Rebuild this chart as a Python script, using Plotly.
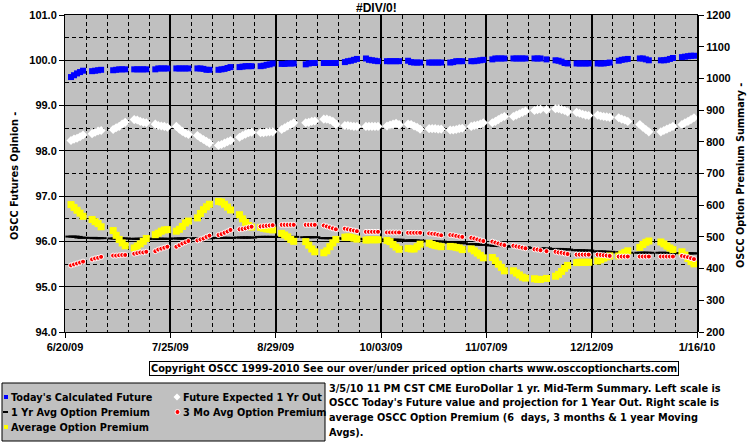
import pandas as pd
import plotly.graph_objects as go

# ---------------- data ----------------
HOLIDAYS = ["2009-07-03", "2009-09-07", "2009-11-26", "2009-12-25", "2010-01-01"]
_d = pd.bdate_range("2009-06-22", "2010-01-15")
DATES = _d[~_d.isin(pd.to_datetime(HOLIDAYS))]

TICK_VALS = ["2009-06-20", "2009-07-25", "2009-08-29", "2009-10-03",
             "2009-11-07", "2009-12-12", "2010-01-16"]
TICK_TEXT = ["6/20/09", "7/25/09", "8/29/09", "10/03/09", "11/07/09", "12/12/09", "1/16/10"]

TODAYS_FUTURE = [
    99.63, 99.67, 99.71, 99.74, 99.77,
    99.76, 99.77, 99.78, 99.79,
    99.78, 99.79, 99.80, 99.80, 99.80,
    99.80, 99.80, 99.80, 99.80, 99.80,
    99.80, 99.82, 99.82, 99.82, 99.82,
    99.82, 99.82, 99.82, 99.82, 99.82,
    99.82, 99.82, 99.81, 99.79, 99.79,
    99.79, 99.80, 99.81, 99.83, 99.85,
    99.85, 99.86, 99.87, 99.87, 99.87,
    99.87, 99.88, 99.90, 99.91, 99.93,
    99.92, 99.92, 99.93, 99.93, 99.93,
    99.91, 99.93, 99.94, 99.94,
    99.94, 99.94, 99.94, 99.94, 99.94,
    99.96, 99.98, 99.99, 100.01, 100.03,
    100.04, 100.01, 100.00, 99.99, 99.98,
    99.98, 99.98, 99.98, 99.98, 99.98,
    99.99, 99.96, 99.95, 99.95, 99.95,
    99.95, 99.95, 99.95, 99.95, 99.95,
    99.95, 99.96, 99.98, 99.98, 99.98,
    99.98, 99.98, 99.99, 100.00, 100.01,
    100.02, 100.04, 100.04, 100.04, 100.04,
    100.04, 100.04, 100.04, 100.04, 100.04,
    100.04, 100.04, 100.04, 100.02,
    100.00, 99.99, 99.97, 99.94, 99.93,
    99.93, 99.93, 99.93, 99.93, 99.93,
    99.93, 99.93, 99.93, 99.94, 99.95,
    99.99, 100.01, 100.02, 100.03,
    100.04, 100.04, 100.02, 100.00,
    100.00, 100.00, 100.01, 100.03, 100.05,
    100.07, 100.08, 100.09, 100.10, 100.10,
]

FUTURE_1YR = [
    98.23, 98.26, 98.28, 98.31, 98.35,
    98.38, 98.41, 98.44, 98.45,
    98.47, 98.51, 98.54, 98.59, 98.63,
    98.69, 98.68, 98.65, 98.63, 98.62,
    98.59, 98.56, 98.55, 98.54, 98.52,
    98.54, 98.48, 98.43, 98.39, 98.36,
    98.34, 98.29, 98.25, 98.21, 98.17,
    98.12, 98.14, 98.17, 98.20, 98.23,
    98.30, 98.34, 98.37, 98.40, 98.41,
    98.40, 98.40, 98.41, 98.42, 98.42,
    98.47, 98.51, 98.55, 98.58, 98.62,
    98.62, 98.63, 98.65, 98.66,
    98.70, 98.70, 98.68, 98.65, 98.59,
    98.56, 98.56, 98.55, 98.54, 98.54,
    98.54, 98.54, 98.54, 98.54, 98.54,
    98.55, 98.57, 98.59, 98.61, 98.58,
    98.59, 98.58, 98.55, 98.52, 98.48,
    98.49, 98.49, 98.49, 98.48, 98.48,
    98.46, 98.46, 98.47, 98.49, 98.50,
    98.54, 98.56, 98.57, 98.59, 98.62,
    98.62, 98.65, 98.69, 98.73, 98.76,
    98.76, 98.79, 98.82, 98.85, 98.88,
    98.89, 98.91, 98.92, 98.91,
    98.93, 98.93, 98.91, 98.89, 98.86,
    98.85, 98.83, 98.81, 98.79, 98.78,
    98.79, 98.77, 98.76, 98.75, 98.74,
    98.73, 98.70, 98.68, 98.65,
    98.58, 98.52, 98.47, 98.42,
    98.42, 98.45, 98.48, 98.51, 98.54,
    98.58, 98.62, 98.65, 98.69, 98.73,
]

AVG_1YR = [
    501, 501, 500, 498, 497,
    497, 496, 496, 496,
    495, 495, 495, 495, 495,
    494, 494, 494, 494, 494,
    494, 494, 494, 494, 494,
    495, 495, 495, 495, 495,
    496, 496, 496, 496, 496,
    497, 497, 497, 497, 497,
    498, 498, 498, 498, 498,
    500, 500, 500, 500, 500,
    500, 500, 500, 500, 500,
    499, 499, 499, 499,
    496, 496, 496, 496, 496,
    494, 494, 494, 494, 494,
    492, 492, 492, 492, 492,
    491, 491, 491, 491, 491,
    489, 489, 489, 488, 488,
    486, 486, 485, 485, 485,
    482, 481, 481, 480, 480,
    477, 477, 476, 476, 475,
    473, 472, 472, 471, 471,
    469, 469, 468, 468, 467,
    465, 465, 464, 464,
    462, 462, 461, 461, 460,
    458, 458, 457, 457, 457,
    454, 454, 453, 453, 453,
    451, 451, 450, 450,
    450, 450, 450, 450,
    450, 450, 449, 449, 449,
    449, 448, 448, 448, 448,
]

AVG_3MO = [
    410, 413, 416, 419, 422,
    429, 432, 434, 437,
    441, 441, 442, 443, 443,
    447, 449, 451, 451, 453,
    455, 460, 463, 466, 469,
    469, 474, 479, 483, 487,
    489, 492, 495, 500, 504,
    506, 509, 513, 517, 522,
    524, 525, 527, 530, 532,
    533, 534, 535, 536, 537,
    538, 538, 538, 538, 538,
    538, 538, 538, 538,
    536, 533, 530, 527, 524,
    526, 524, 522, 520, 518,
    516, 516, 516, 516, 516,
    514, 514, 514, 514, 514,
    513, 513, 513, 513, 513,
    511, 510, 509, 507, 505,
    506, 505, 503, 501, 500,
    497, 495, 492, 489, 487,
    485, 482, 479, 476, 474,
    472, 470, 468, 466, 464,
    461, 460, 458, 455,
    453, 451, 450, 448, 446,
    444, 444, 444, 444, 444,
    444, 443, 442, 441, 440,
    438, 438, 438, 438,
    438, 438, 438, 438,
    438, 438, 438, 438, 438,
    440, 438, 436, 433, 430,
]

AVG_PREMIUM = [
    602, 593, 584, 575, 565,
    555, 548, 542, 532,
    520, 505, 492, 481, 472,
    465, 471, 478, 486, 495,
    507, 512, 518, 522, 523,
    518, 524, 533, 544, 550,
    560, 574, 586, 595, 603,
    612, 610, 603, 594, 585,
    570, 557, 546, 536, 531,
    530, 527, 525, 524, 522,
    511, 506, 500, 492, 486,
    485, 474, 462, 453,
    450, 456, 469, 481, 492,
    499, 500, 499, 496, 493,
    490, 491, 491, 491, 491,
    489, 485, 476, 468, 461,
    464, 462, 462, 469, 477,
    480, 476, 473, 471, 469,
    470, 469, 467, 465, 460,
    462, 456, 449, 442, 434,
    435, 425, 414, 404, 393,
    393, 386, 380, 373, 370,
    368, 366, 366, 369,
    376, 382, 391, 401, 410,
    419, 420, 420, 420, 420,
    424, 428, 433, 437, 440,
    440, 446, 451, 456,
    467, 476, 483, 487,
    484, 478, 471, 465, 460,
    453, 443, 432, 422, 415,
]

LEGEND_LABELS = ["Today's Calculated Future", "Future Expected 1 Yr Out",
                 "1 Yr Avg Option Premium", "3 Mo Avg Option Premium",
                 "Average Option Premium"]

TITLE = "#DIV/0!"
LEFT_TITLE = "OSCC Futures Opinion -"
RIGHT_TITLE = "OSCC Option Premium Summary -"
COPYRIGHT = "Copyright OSCC 1999-2010 See our over/under priced option charts www.osccoptioncharts.com"
NOTE_LINES = [
    "3/5/10 11 PM CST CME EuroDollar 1 yr. Mid-Term Summary. Left scale is",
    "OSCC Today's Future value and projection for 1 Year Out. Right scale is",
    "average OSCC Option Premium (6  days, 3 months &amp; 1 year Moving",
    "Avgs).",
]

# ---------------- figure ----------------
W, H = 755, 446
L, R, T, B = 65, 58, 15, 114
PW, PH = W - L - R, H - T - B


def px(x):
    return (x - L) / PW


def py(y):
    return (H - B - y) / PH


NUM_FAM = "Liberation Sans, Arial"
TXT_FAM = "DejaVu Sans"
NUM_FONT = dict(family=NUM_FAM, size=11, color="black", weight="bold")
TXT_FONT = dict(family=TXT_FAM, size=9.75, color="black", weight="bold")

fig = go.Figure()
fig.add_trace(go.Scatter(x=DATES, y=TODAYS_FUTURE, mode="markers", name=LEGEND_LABELS[0],
                         marker=dict(symbol="square", size=6, color="#0000FF", line=dict(width=0)),
                         yaxis="y", showlegend=False))
fig.add_trace(go.Scatter(x=DATES, y=FUTURE_1YR, mode="markers", name=LEGEND_LABELS[1],
                         marker=dict(symbol="diamond", size=7, color="#FFFFFF", line=dict(width=0)),
                         yaxis="y", showlegend=False))
fig.add_trace(go.Scatter(x=DATES, y=AVG_1YR, mode="markers", name=LEGEND_LABELS[2],
                         marker=dict(symbol="line-ew", size=8, color="black",
                                     line=dict(width=2, color="black")),
                         yaxis="y2", showlegend=False))
fig.add_trace(go.Scatter(x=DATES, y=AVG_PREMIUM, mode="markers", name=LEGEND_LABELS[4],
                         marker=dict(symbol="square", size=7, color="#FFFF00", line=dict(width=0)),
                         yaxis="y2", showlegend=False))
fig.add_trace(go.Scatter(x=DATES, y=AVG_3MO, mode="markers", name=LEGEND_LABELS[3],
                         marker=dict(symbol="circle", size=5, color="#FF0000",
                                     line=dict(width=1, color="white")),
                         yaxis="y2", showlegend=False))

DASH = "4px,3px"
fig.update_layout(
    width=W, height=H,
    margin=dict(l=L, r=R, t=T, b=B, pad=0, autoexpand=False),
    paper_bgcolor="white", plot_bgcolor="#C0C0C0",
    showlegend=False,
    font=TXT_FONT,
    xaxis=dict(
        type="date", range=["2009-06-20", "2010-01-16"], automargin=False,
        tickmode="array", tickvals=TICK_VALS, ticktext=TICK_TEXT,
        ticks="outside", ticklen=5, tickcolor="black", tickwidth=1,
        tickfont=NUM_FONT,
        showgrid=True, gridcolor="black", gridwidth=2,
        showline=True, linecolor="black", linewidth=1, mirror=True,
        zeroline=False,
        minor=dict(tickmode="linear", tick0="2009-06-20", dtick=7 * 86400000,
                   showgrid=True, gridcolor="black", gridwidth=1, griddash=DASH, ticks=""),
    ),
    yaxis=dict(
        range=[94, 101], dtick=1, tick0=94, tickformat=".1f", automargin=False,
        ticks="outside", ticklen=5, tickcolor="black",
        tickfont=NUM_FONT,
        showgrid=True, gridcolor="black", gridwidth=1,
        showline=True, linecolor="black", linewidth=1, mirror=True,
        zeroline=False,
        minor=dict(dtick=0.5, showgrid=True, gridcolor="black", gridwidth=1, griddash=DASH, ticks=""),
    ),
    yaxis2=dict(
        range=[200, 1200], dtick=100, tick0=200, overlaying="y", side="right", automargin=False,
        ticks="outside", ticklen=5, tickcolor="black",
        tickfont=NUM_FONT, showgrid=False, zeroline=False,
        showline=True, linecolor="black", linewidth=2,
    ),
)

annotations = [
    dict(text=TITLE, x=px(376), y=py(8), xref="paper", yref="paper",
         showarrow=False, xanchor="center", yanchor="middle",
         font=dict(family=NUM_FAM, size=12, color="black", weight="bold")),
    dict(text=LEFT_TITLE, x=px(15), y=py(176), xref="paper", yref="paper", textangle=-90,
         showarrow=False, xanchor="center", yanchor="middle", font=TXT_FONT),
    dict(text=RIGHT_TITLE, x=px(741), y=py(176), xref="paper", yref="paper", textangle=-90,
         showarrow=False, xanchor="center", yanchor="middle", font=TXT_FONT),
    dict(text=COPYRIGHT, x=px(413.5), y=py(368), xref="paper", yref="paper",
         showarrow=False, xanchor="center", yanchor="middle",
         bordercolor="black", borderwidth=1, borderpad=1, bgcolor="white", font=TXT_FONT),
]
for i, line in enumerate(NOTE_LINES):
    annotations.append(dict(text=line, x=px(327), y=py(388 + 14.7 * i), xref="paper", yref="paper",
                            showarrow=False, xanchor="left", yanchor="middle", font=TXT_FONT))

# boxed key under the chart
leg_rows = [397, 412, 427]
leg_items = [
    (LEGEND_LABELS[0], 9, leg_rows[0]),
    (LEGEND_LABELS[1], 181, leg_rows[0]),
    (LEGEND_LABELS[2], 9, leg_rows[1]),
    (LEGEND_LABELS[3], 181, leg_rows[1]),
    (LEGEND_LABELS[4], 9, leg_rows[2]),
]
for text, x, y in leg_items:
    annotations.append(dict(text=text, x=px(x), y=py(y), xref="paper", yref="paper",
                            showarrow=False, xanchor="left", yanchor="middle", font=TXT_FONT))
fig.update_layout(annotations=annotations)

shapes = [
    dict(type="rect", xref="paper", yref="paper", x0=px(2), x1=px(325), y0=py(441), y1=py(383),
         fillcolor="#C0C0C0", line=dict(color="black", width=1), layer="below"),
    dict(type="rect", xref="paper", yref="paper", x0=px(4), x1=px(8), y0=py(399), y1=py(395),
         fillcolor="#0000FF", line=dict(width=0)),
    dict(type="path", xref="paper", yref="paper",
         path=f"M {px(177)} {py(393.5)} L {px(180.5)} {py(397)} L {px(177)} {py(400.5)} L {px(173.5)} {py(397)} Z",
         fillcolor="white", line=dict(width=0)),
    dict(type="line", xref="paper", yref="paper", x0=px(3), x1=px(8), y0=py(412), y1=py(412),
         line=dict(color="black", width=2)),
    dict(type="circle", xref="paper", yref="paper", x0=px(175), x1=px(180), y0=py(414.5), y1=py(409.5),
         fillcolor="#FF0000", line=dict(color="white", width=1)),
    dict(type="rect", xref="paper", yref="paper", x0=px(4), x1=px(8), y0=py(429), y1=py(425),
         fillcolor="#FFFF00", line=dict(width=0)),
]
fig.update_layout(shapes=shapes)

fig.write_html("out.html",
               config={"displayModeBar": False, "staticPlot": True},
               post_script="document.body.style.margin='0';document.body.style.overflow='hidden';")
